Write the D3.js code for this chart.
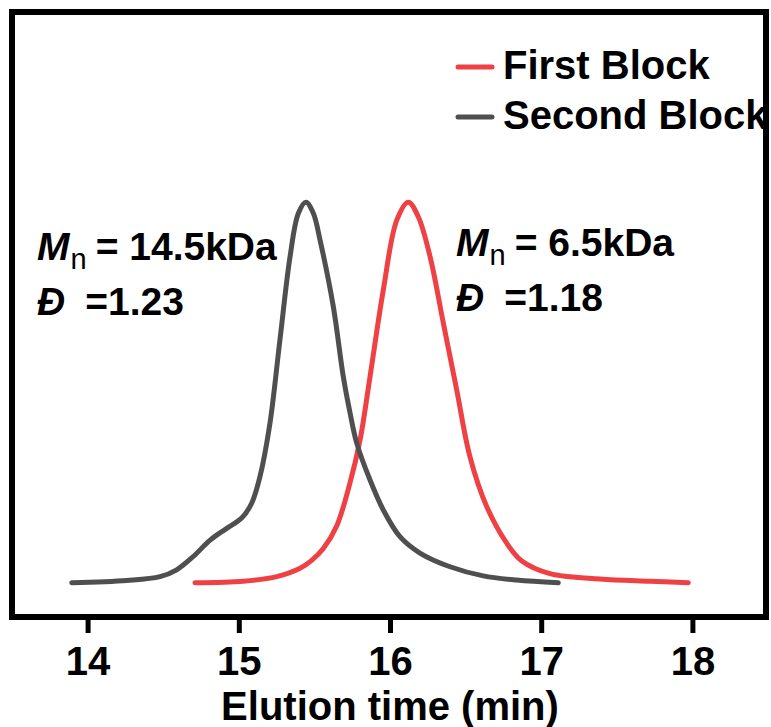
<!DOCTYPE html>
<html>
<head>
<meta charset="utf-8">
<script src="https://cdn.jsdelivr.net/npm/d3@7"></script>
<style>
  body { margin: 0; background: #fff; }
  svg { display: block; font-family: "Liberation Sans", Arial, sans-serif; }
</style>
</head>
<body>
<div id="chart"></div>
<script>
// GPC traces, normalised intensity
var secondTime = [13.895, 14.259, 14.479, 14.589, 14.699, 14.810, 14.920, 15.019, 15.085, 15.140,
                  15.206, 15.272, 15.339, 15.394, 15.444, 15.493, 15.537, 15.625, 15.691, 15.735,
                  15.780, 15.868, 15.956, 16.066, 16.198, 16.397, 16.617, 16.838, 17.113];
var secondValue = [0.0, 0.006, 0.016, 0.034, 0.069, 0.112, 0.143, 0.170, 0.209, 0.279,
                   0.419, 0.638, 0.857, 0.971, 1.0, 0.971, 0.901, 0.726, 0.542, 0.448,
                   0.367, 0.270, 0.191, 0.121, 0.078, 0.042, 0.018, 0.007, 0.0];

var firstTime = [14.710, 15.030, 15.251, 15.405, 15.480, 15.559, 15.648, 15.735, 15.802, 15.868,
                 15.956, 16.045, 16.121, 16.187, 16.265, 16.353, 16.441, 16.529, 16.640, 16.772,
                 16.870, 17.058, 17.389, 17.720, 17.973];
var firstValue = [0.0, 0.004, 0.016, 0.038, 0.058, 0.090, 0.150, 0.262, 0.375, 0.542,
                  0.770, 0.953, 1.0, 0.962, 0.857, 0.682, 0.507, 0.331, 0.200, 0.104,
                  0.058, 0.024, 0.010, 0.004, 0.0];

var xTicks = [14, 15, 16, 17, 18];
var seriesNames = ["First Block", "Second Block"];
var seriesColors = ["#ef4043", "#4f4f4f"];

var svg = d3.select("#chart").append("svg")
    .attr("width", 771)
    .attr("height", 727);

var x = d3.scaleLinear().domain([13.5, 18.5]).range([12, 768]);
var y = d3.scaleLinear().domain([-0.09, 1.5]).range([617, 12]);

var line = d3.line()
    .x(function(d) { return x(d[0]); })
    .y(function(d) { return y(d[1]); })
    .curve(d3.curveCatmullRom.alpha(0.5));

var series = [
    d3.zip(firstTime, firstValue),
    d3.zip(secondTime, secondValue)
];

svg.selectAll(".trace")
    .data(series)
    .enter()
    .append("path")
    .attr("class", "trace")
    .attr("d", line)
    .attr("fill", "none")
    .attr("stroke", function(d, i) { return seriesColors[i]; })
    .attr("stroke-width", 5)
    .attr("stroke-linecap", "round")
    .attr("stroke-linejoin", "round");

// legend
var legend = svg.selectAll(".legend")
    .data(seriesNames)
    .enter()
    .append("g")
    .attr("class", "legend")
    .attr("transform", function(d, i) { return "translate(0," + (i * 50) + ")"; });

legend.append("line")
    .attr("x1", 458).attr("x2", 492)
    .attr("y1", 67).attr("y2", 67)
    .attr("stroke", function(d, i) { return seriesColors[i]; })
    .attr("stroke-width", 5)
    .attr("stroke-linecap", "round");

legend.append("text")
    .attr("x", 503).attr("y", 79)
    .attr("font-size", "40px")
    .attr("font-weight", "bold")
    .text(function(d) { return d; });

// annotations
function annotate(px, py, mn, dispersity) {
    var t1 = svg.append("text")
        .attr("x", px).attr("y", py)
        .attr("font-size", "39px")
        .attr("font-weight", "bold");
    t1.append("tspan").attr("font-style", "italic").text("M");
    t1.append("tspan").attr("font-size", "29px").attr("font-weight", "normal")
        .attr("dy", 9).attr("dx", 1).text("n");
    t1.append("tspan").attr("dy", -9).attr("dx", 9).text("= " + mn);

    var t2 = svg.append("text")
        .attr("x", px).attr("y", py + 55)
        .attr("font-size", "39px")
        .attr("font-weight", "bold");
    t2.append("tspan").attr("font-style", "italic").text("Đ");
    t2.append("tspan").attr("dx", 20).text("=" + dispersity);
}
annotate(37, 260, "14.5kDa", "1.23");
annotate(456, 256, "6.5kDa", "1.18");

// frame
svg.append("rect")
    .attr("x", 12).attr("y", 12)
    .attr("width", 754).attr("height", 605)
    .attr("fill", "none")
    .attr("stroke", "#000")
    .attr("stroke-width", 6);

// x axis
var xAxis = svg.append("g")
    .attr("transform", "translate(0,620)")
    .call(d3.axisBottom(x).tickValues(xTicks).tickFormat(d3.format("d"))
        .tickSize(13).tickSizeOuter(0));

xAxis.select(".domain").remove();
xAxis.selectAll(".tick line")
    .attr("stroke", "#000")
    .attr("stroke-width", 5);
xAxis.selectAll(".tick text")
    .attr("y", 55)
    .attr("dy", 0)
    .attr("fill", "#000")
    .attr("font-size", "40px")
    .attr("font-weight", "bold")
    .attr("font-family", "Liberation Sans, Arial, sans-serif");

svg.append("text")
    .attr("x", x(16))
    .attr("y", 720)
    .attr("text-anchor", "middle")
    .attr("font-size", "40px")
    .attr("font-weight", "bold")
    .text("Elution time (min)");
</script>
</body>
</html>
